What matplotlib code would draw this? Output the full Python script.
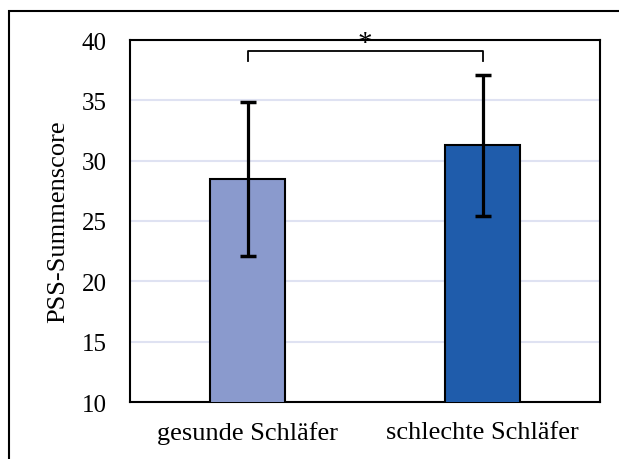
import matplotlib
matplotlib.use("Agg")
import matplotlib.pyplot as plt
from matplotlib.patches import Rectangle

categories = ["gesunde Schläfer", "schlechte Schläfer"]
means = [28.5, 31.3]
err_upper = [34.85, 37.1]
err_lower = [22.1, 25.4]
colors = ["#8a9acd", "#1f5cab"]
y_ticks = [10, 15, 20, 25, 30, 35, 40]
bracket_y = 39.05
bracket_drop = 0.75
sig_label = "*"

plt.rcParams['font.family'] = ['Liberation Serif', 'DejaVu Serif']

fig = plt.figure(figsize=(6.19, 4.6), dpi=100)
ax = fig.add_axes([130/619, 1-403/460, 470/619, 362/460])

x = list(range(len(categories)))
yerr = [[m - lo for m, lo in zip(means, err_lower)],
        [hi - m for m, hi in zip(means, err_upper)]]
ax.bar(x, means, width=0.315, bottom=0, color=colors, edgecolor="black",
       linewidth=1.5, zorder=3)
ax.errorbar(x, means, yerr=yerr, fmt="none", ecolor="black", elinewidth=2.3,
            capsize=6, capthick=2.5, zorder=4)

ax.set_xlim(-0.5, 1.5)
ax.set_ylim(10, 40)
ax.set_yticks(y_ticks)
ax.set_xticks(x)
ax.set_xticklabels(categories)
ax.tick_params(axis="both", length=0)
ax.tick_params(axis="x", labelsize=19, pad=14)
ax.tick_params(axis="y", labelsize=18, pad=17)
ax.yaxis.grid(True, color="#dfe2f2", linewidth=1.5, zorder=0)
ax.set_axisbelow(True)
for s in ax.spines.values():
    s.set_linewidth(1.5)
    s.set_color("black")
ax.set_ylabel("PSS-Summenscore", fontsize=19, labelpad=9)

# significance bracket
ax.plot([x[0], x[0], x[1], x[1]],
        [bracket_y - bracket_drop, bracket_y, bracket_y, bracket_y - bracket_drop],
        color="black", linewidth=1.3, clip_on=False, zorder=5)
ax.text((x[0] + x[1]) / 2, 38.65, sig_label, ha="center", va="bottom",
        fontsize=21, clip_on=False, zorder=6)

# outer frame
fig.patches.append(Rectangle((9/619, -0.1), 1.2, 1 - 12/460 + 0.1,
                             transform=fig.transFigure, fill=False,
                             edgecolor="black", linewidth=1.5))

fig.savefig("out.png", dpi=100)
